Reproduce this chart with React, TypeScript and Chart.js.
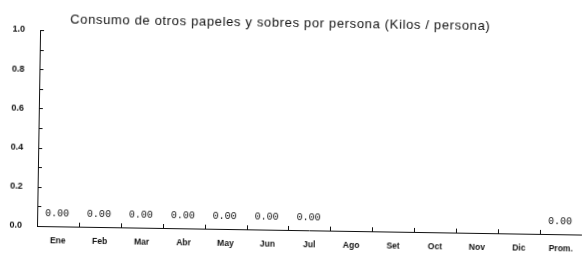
import React, { useEffect, useRef } from "react";
import { Chart, registerables } from "chart.js";

Chart.register(...registerables);

const categories = ["Ene", "Feb", "Mar", "Abr", "May", "Jun", "Jul", "Ago", "Set", "Oct", "Nov", "Dic", "Prom."];
const values: (number | null)[] = [0, 0, 0, 0, 0, 0, 0, null, null, null, null, null, 0];
const yMajorTicks = [0, 0.2, 0.4, 0.6, 0.8, 1.0];
const yMinorTicks = [0.1, 0.3, 0.5, 0.7, 0.9];
const chartTitle = "Consumo de otros papeles y sobres por persona (Kilos / persona)";

const INK = "#111";

const decorPlugin = {
  id: "decor",
  afterDraw(chart: any) {
    const ctx = chart.ctx as CanvasRenderingContext2D;
    const xs = chart.scales.x;
    const ys = chart.scales.y;
    const area = chart.chartArea;
    ctx.save();
    ctx.strokeStyle = INK;
    ctx.fillStyle = INK;
    ctx.lineWidth = 1;
    // inward y ticks
    [...yMajorTicks, ...yMinorTicks].forEach((v) => {
      const py = Math.round(ys.getPixelForValue(v)) + 0.5;
      ctx.beginPath();
      ctx.moveTo(area.left, py);
      ctx.lineTo(area.left + 4, py);
      ctx.stroke();
    });
    // inward x ticks at category boundaries
    for (let i = 1; i < categories.length; i++) {
      const px = Math.round((xs.getPixelForValue(i - 1) + xs.getPixelForValue(i)) / 2) + 0.5;
      ctx.beginPath();
      ctx.moveTo(px, area.bottom);
      ctx.lineTo(px, area.bottom - 4);
      ctx.stroke();
    }
    // value labels
    const meta = chart.getDatasetMeta(0);
    ctx.font = '10px "Liberation Mono"';
    ctx.textAlign = "center";
    ctx.textBaseline = "alphabetic";
    meta.data.forEach((el: any, i: number) => {
      const v = values[i];
      if (v === null || v === undefined) return;
      ctx.fillText(v.toFixed(2), el.x - 1, el.y - 10);
    });
    // title
    ctx.font = '13px "Liberation Sans"';
    (ctx as any).letterSpacing = "0.65px";
    ctx.textAlign = "left";
    ctx.fillText(chartTitle, 67, 23);
    ctx.restore();
  },
};

export default function App() {
  const canvasRef = useRef<HTMLCanvasElement | null>(null);

  useEffect(() => {
    if (!canvasRef.current) return;
    const chart = new Chart(canvasRef.current, {
      type: "bar",
      data: {
        labels: categories,
        datasets: [
          {
            data: values as any,
            backgroundColor: "rgba(0,0,0,0)",
            borderWidth: 0,
          },
        ],
      },
      options: {
        responsive: false,
        animation: false,
        layout: { padding: { top: 30, left: 0, right: 0, bottom: 0 } },
        plugins: {
          legend: { display: false },
          title: { display: false },
          tooltip: { enabled: false },
        },
        scales: {
          x: {
            grid: { display: false, drawTicks: false },
            border: { display: true, color: INK, width: 1 },
            ticks: {
              color: INK,
              font: { family: '"Liberation Sans"', size: 8.5, weight: "bold" },
              padding: 10,
              maxRotation: 0,
              autoSkip: false,
            },
            afterFit: (s: any) => {
              s.height = 29;
            },
          },
          y: {
            min: 0,
            max: 1,
            grid: { display: false, drawTicks: false },
            border: { display: true, color: INK, width: 1 },
            ticks: {
              stepSize: 0.2,
              color: INK,
              font: { family: '"Liberation Sans"', size: 9, weight: "bold" },
              padding: 15,
              callback: (v: any) => Number(v).toFixed(1),
            },
            afterFit: (s: any) => {
              s.width = 37;
            },
          },
        },
      },
      plugins: [decorPlugin],
    });
    return () => chart.destroy();
  }, []);

  return (
    <div style={{ position: "fixed", left: 0, top: 0, width: 583, height: 255, overflow: "hidden", background: "#fff" }}>
      <canvas
        ref={canvasRef}
        width={583}
        height={255}
        style={{ display: "block", transform: "rotate(0.9deg)", transformOrigin: "37px 226px" }}
      />
    </div>
  );
}
